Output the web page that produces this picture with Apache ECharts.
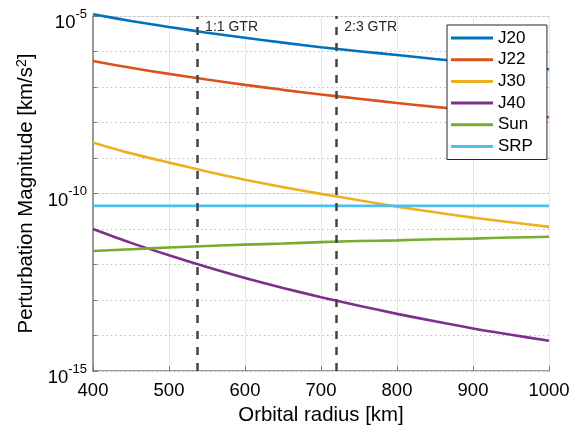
<!DOCTYPE html>
<html>
<head>
<meta charset="utf-8">
<script src="https://cdn.jsdelivr.net/npm/echarts@6/dist/echarts.min.js"></script>
<style>
  html, body { margin: 0; padding: 0; background: #ffffff; }
  #chart { width: 580px; height: 433px; }
</style>
</head>
<body>
<div id="chart"></div>
<script>
// Orbital radius samples [km]
const radius = [400, 450, 500, 550, 600, 650, 700, 750, 800, 850, 900, 950, 1000];

// Perturbation magnitudes [km/s^2]
const j20 = [1.12e-5, 7.24e-6, 4.90e-6, 3.39e-6, 2.45e-6, 1.78e-6, 1.32e-6, 1.02e-6, 7.94e-7, 6.17e-7, 4.90e-7, 3.89e-7, 3.16e-7];
const j22 = [5.37e-7, 3.47e-7, 2.34e-7, 1.62e-7, 1.15e-7, 8.32e-8, 6.17e-8, 4.68e-8, 3.55e-8, 2.75e-8, 2.19e-8, 1.74e-8, 1.41e-8];
const j30 = [2.75e-9, 1.35e-9, 7.41e-10, 4.17e-10, 2.45e-10, 1.51e-10, 9.77e-11, 6.46e-11, 4.27e-11, 2.95e-11, 2.09e-11, 1.55e-11, 1.15e-11];
const j40 = [1.00e-11, 4.07e-12, 1.82e-12, 8.51e-13, 4.17e-13, 2.19e-13, 1.20e-13, 6.92e-14, 4.07e-14, 2.51e-14, 1.58e-14, 1.05e-14, 7.08e-15];
const sun = [2.40e-12, 2.69e-12, 3.02e-12, 3.31e-12, 3.63e-12, 3.89e-12, 4.27e-12, 4.57e-12, 4.79e-12, 5.13e-12, 5.37e-12, 5.75e-12, 6.03e-12];
const srp = [4.47e-11, 4.47e-11, 4.47e-11, 4.47e-11, 4.47e-11, 4.47e-11, 4.47e-11, 4.47e-11, 4.47e-11, 4.47e-11, 4.47e-11, 4.47e-11, 4.47e-11];

// Ground-track-repeat radii and their labels
const gtrRadius = [537, 720];
const gtrLabels = ['1:1 GTR', '2:3 GTR'];

// Exponents that carry a tick label
const labelledExponents = [-15, -10, -5];

const FONT = '"Liberation Sans", Arial, Helvetica, sans-serif';

const curves = [
  { name: 'J20', data: j20, color: '#0072BD' },
  { name: 'J22', data: j22, color: '#D95319' },
  { name: 'J30', data: j30, color: '#EDB120' },
  { name: 'J40', data: j40, color: '#7E2F8E' },
  { name: 'Sun', data: sun, color: '#77AC30' },
  { name: 'SRP', data: srp, color: '#4DBEEE' }
];

const chart = echarts.init(document.getElementById('chart'), null, { renderer: 'canvas' });

const series = [
  ...curves.map(c => ({
    name: c.name,
    type: 'line',
    data: radius.map((r, i) => [r, c.data[i]]),
    showSymbol: false,
    smooth: 0.3,
    clip: c.name !== 'J20',
    z: 2,
    color: c.color,
    lineStyle: { color: c.color, width: 2.6 }
  })),
  {
    name: 'gtr',
    type: 'line',
    data: [],
    z: 3,
    silent: true,
    markLine: {
      silent: true,
      z: 3,
      symbol: ['none', 'none'],
      lineStyle: { type: [8, 8], color: '#444444', width: 2.5 },
      label: {
        show: true,
        position: 'end',
        align: 'left',
        distance: 0,
        offset: [8, 18],
        fontFamily: FONT,
        fontSize: 14,
        color: '#262626'
      },
      data: gtrRadius.map((r, i) => ({ xAxis: r, label: { formatter: gtrLabels[i] } }))
    }
  }
];

const axisGray = '#7a7a7a';

chart.setOption({
  animation: false,
  backgroundColor: '#ffffff',
  textStyle: { fontFamily: FONT },
  grid: { left: 93, right: 31, top: 16, bottom: 62 },
  legend: {
    data: curves.map(c => c.name),
    orient: 'vertical',
    left: 447,
    top: 25,
    icon: 'rect',
    itemWidth: 42,
    itemHeight: 3,
    itemGap: 1.7,
    padding: [3, 14, 3, 4],
    borderColor: '#262626',
    borderWidth: 1,
    backgroundColor: '#ffffff',
    textStyle: { fontFamily: FONT, fontSize: 17, color: '#000000', lineHeight: 20 }
  },
  xAxis: {
    type: 'value',
    min: 400,
    max: 1000,
    interval: 100,
    name: 'Orbital radius [km]',
    nameLocation: 'middle',
    nameGap: 32,
    nameTextStyle: { fontFamily: FONT, fontSize: 20.4, color: '#000000' },
    axisLine: { show: true, lineStyle: { color: axisGray, width: 1.5 } },
    axisTick: { show: true, inside: true, length: 5, lineStyle: { color: axisGray, width: 1 } },
    axisLabel: { fontFamily: FONT, fontSize: 18.5, color: '#000000', margin: 10, formatter: v => String(v) },
    splitLine: { show: true, lineStyle: { color: '#e6e6e6', width: 1 } }
  },
  yAxis: [
    {
      // labelled decades every 10^5 with solid grid lines
      type: 'log',
      logBase: 10,
      min: 1e-15,
      max: 1e-5,
      interval: 5,
      name: 'Perturbation Magnitude [km/s{sup|2}]',
      nameLocation: 'middle',
      nameGap: 55,
      nameTextStyle: {
        fontFamily: FONT, fontSize: 20.4, color: '#000000',
        rich: { sup: { fontFamily: FONT, fontSize: 14, color: '#000000', padding: [0, 0, 9, 0] } }
      },
      axisLine: { show: true, lineStyle: { color: axisGray, width: 1.5 } },
      axisTick: { show: true, inside: true, length: 5, lineStyle: { color: axisGray, width: 1 } },
      splitLine: { show: true, lineStyle: { color: '#e6e6e6', width: 1 } },
      axisLabel: {
        margin: 6,
        formatter: v => {
          const e = Math.round(Math.log10(v));
          return labelledExponents.includes(e) ? '{b|10}{s|' + e + '}' : '';
        },
        rich: {
          b: { fontFamily: FONT, fontSize: 18.5, color: '#000000', padding: [14, 0, 0, 0] },
          s: { fontFamily: FONT, fontSize: 13, color: '#000000', padding: [0, 0, 4, 0] }
        }
      },
      z: 1
    },
    {
      // every decade: inner ticks and dotted grid lines
      type: 'log',
      logBase: 10,
      min: 1e-15,
      max: 1e-5,
      interval: 1,
      position: 'left',
      axisLine: { show: false },
      axisTick: { show: true, inside: true, length: 4, lineStyle: { color: axisGray, width: 1 } },
      axisLabel: { show: false },
      splitLine: { show: true, lineStyle: { color: '#bdbdbd', width: 1, type: [1.5, 3] } },
      z: 1
    }
  ],
  series: series
});
</script>
</body>
</html>
